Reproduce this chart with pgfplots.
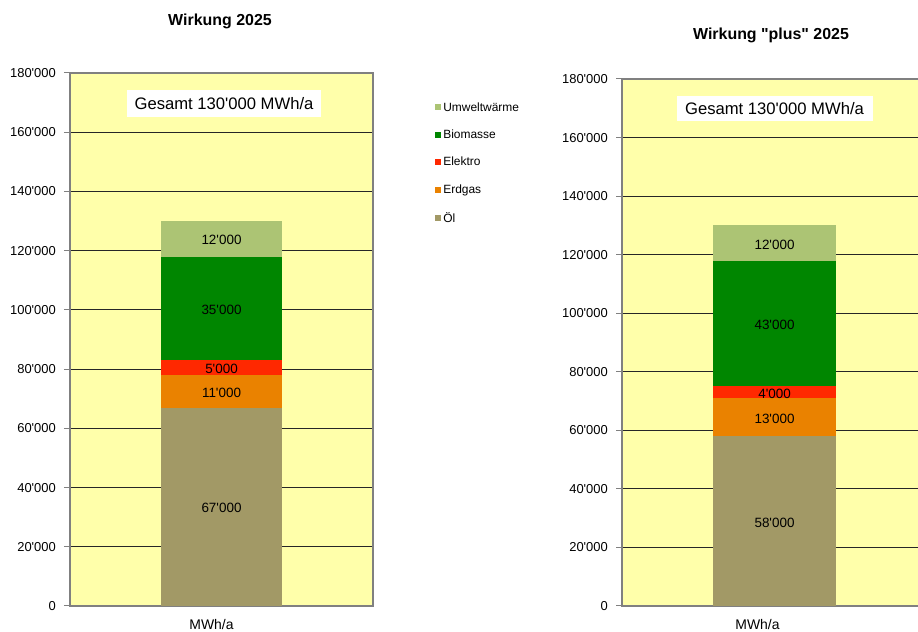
\documentclass[border=0pt]{standalone}
\usepackage{pgfplots}
\pgfplotsset{compat=1.18}
\usepackage{fontspec}
\setmainfont{Liberation Sans}[Ligatures=TeXOff]
\definecolor{bgy}{RGB}{255,255,170}
\definecolor{oel}{RGB}{162,153,102}
\definecolor{erdgas}{RGB}{234,130,0}
\definecolor{elektro}{RGB}{255,40,0}
\definecolor{bio}{RGB}{0,134,0}
\definecolor{umwelt}{RGB}{172,196,116}
\pgfplotsset{
  mybar/.style={
    scale only axis, ybar stacked, xmin=-1, xmax=1, ymin=0, ymax=180000,
    scaled y ticks=false,
    axis background/.style={fill=bgy},
    ytick={0,20000,40000,60000,80000,100000,120000,140000,160000,180000},
    yticklabels={0,20'000,40'000,60'000,80'000,100'000,120'000,140'000,160'000,180'000},
    ymajorgrids, grid style={black!85, line width=0.9bp},
    axis line style={draw=gray, line width=1.6bp},
    ytick style={draw=gray, line width=1bp}, major tick length=6bp,
    tick align=outside, ytick pos=left,
    xtick={0}, xticklabels={MWh/a}, xtick style={draw=none},
    yticklabel style={font=\fontsize{13}{15}\selectfont, inner sep=0pt, xshift=-8bp},
    xticklabel style={font=\fontsize{14}{16}\selectfont, inner sep=0pt, yshift=-7bp},
    lsq/.style={legend image code/.code={\fill[##1] (2bp,-3bp) rectangle (8bp,3bp);}},
  }
}
\tikzset{vl/.style={font=\fontsize{13.5}{15}\selectfont, yshift=-1.5bp}}
\begin{document}
\begin{tikzpicture}[x=1bp,y=1bp]
\useasboundingbox (0,0) rectangle (918,632);
\begin{axis}[mybar, at={(70bp,26bp)}, anchor=south west, width=303bp, height=533bp,
  xticklabel style={xshift=-10bp},
  legend style={at={(1.205,0.949)}, anchor=north west, draw=none, fill=none,
    font=\fontsize{12}{13}\selectfont, legend cell align=left, row sep=13.3bp, inner sep=0pt},
  reverse legend]
\addplot[fill=oel, draw=none, bar width=121bp, lsq] coordinates {(0,67000)};
\addplot[fill=erdgas, draw=none, bar width=121bp, lsq] coordinates {(0,11000)};
\addplot[fill=elektro, draw=none, bar width=121bp, lsq] coordinates {(0,5000)};
\addplot[fill=bio, draw=none, bar width=121bp, lsq] coordinates {(0,35000)};
\addplot[fill=umwelt, draw=none, bar width=121bp, lsq] coordinates {(0,12000)};
\legend{Öl,Erdgas,Elektro,Biomasse,Umweltwärme}
\coordinate (L1) at (axis cs:0,33500);
\coordinate (L2) at (axis cs:0,72500);
\coordinate (L3) at (axis cs:0,80500);
\coordinate (L4) at (axis cs:0,100500);
\coordinate (L5) at (axis cs:0,124000);
\node[fill=white, minimum width=194bp, minimum height=27bp, inner sep=0pt, xshift=2.5bp,
  font=\fontsize{16.7}{18}\selectfont] at (axis cs:0,169800) {Gesamt 130'000 MWh/a};
\end{axis}
\node[vl] at (L1) {67'000};
\node[vl] at (L2) {11'000};
\node[vl] at (L3) {5'000};
\node[vl] at (L4) {35'000};
\node[vl] at (L5) {12'000};
\begin{axis}[mybar, at={(622bp,26bp)}, anchor=south west, width=305bp, height=527bp,
  xticklabel style={xshift=-17bp}]
\addplot[fill=oel, draw=none, bar width=123bp] coordinates {(0,58000)};
\addplot[fill=erdgas, draw=none, bar width=123bp] coordinates {(0,13000)};
\addplot[fill=elektro, draw=none, bar width=123bp] coordinates {(0,4000)};
\addplot[fill=bio, draw=none, bar width=123bp] coordinates {(0,43000)};
\addplot[fill=umwelt, draw=none, bar width=123bp] coordinates {(0,12000)};
\coordinate (R1) at (axis cs:0,29000);
\coordinate (R2) at (axis cs:0,64500);
\coordinate (R3) at (axis cs:0,73000);
\coordinate (R4) at (axis cs:0,96500);
\coordinate (R5) at (axis cs:0,124000);
\node[fill=white, minimum width=196bp, minimum height=25bp, inner sep=0pt,
  font=\fontsize{16.7}{18}\selectfont] at (axis cs:0,169900) {Gesamt 130'000 MWh/a};
\end{axis}
\node[vl] at (R1) {58'000};
\node[vl] at (R2) {13'000};
\node[vl] at (R3) {4'000};
\node[vl] at (R4) {43'000};
\node[vl] at (R5) {12'000};
\node[font=\bfseries\fontsize{16}{18}\selectfont] at (220,611) {Wirkung 2025};
\node[font=\bfseries\fontsize{16}{18}\selectfont] at (771,597) {Wirkung "plus" 2025};
\end{tikzpicture}
\end{document}
